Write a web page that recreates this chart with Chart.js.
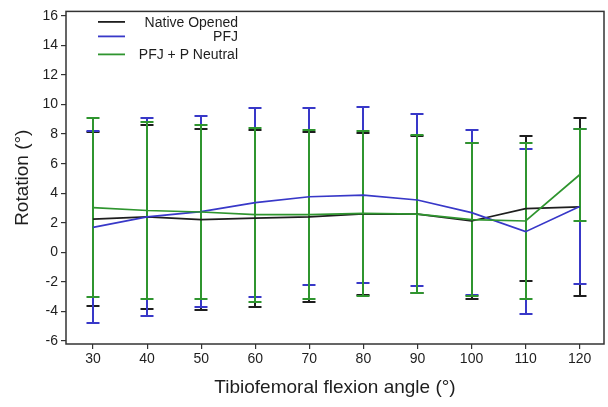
<!DOCTYPE html>
<html>
<head>
<meta charset="utf-8">
<title>Rotation vs tibiofemoral flexion angle</title>
<script src="https://cdn.jsdelivr.net/npm/chart.js@4.4.1/dist/chart.umd.min.js"></script>
<style>
  html, body { margin: 0; padding: 0; background: #fff; }
</style>
</head>
<body>
<canvas id="chart" width="608" height="407"></canvas>
<script>
// Flexion angles (deg) and axis ticks
const angles = [30, 40, 50, 60, 70, 80, 90, 100, 110, 120];
const xTicks = [30, 40, 50, 60, 70, 80, 90, 100, 110, 120];
const yTicks = [-6, -4, -2, 0, 2, 4, 6, 8, 10, 12, 14, 16];

// Series labels
const seriesNames = ['Native Opened', 'PFJ', 'PFJ + P Neutral'];

// Mean rotation (deg) and SD for each condition
const nativeMean = [2.25, 2.4, 2.22, 2.31, 2.4, 2.6, 2.58, 2.12, 2.96, 3.07];
const nativeSD = [5.9, 6.2, 6.1, 6.0, 5.75, 5.5, 5.3, 5.27, 4.93, 6.04];

const pfjMean = [1.69, 2.4, 2.76, 3.36, 3.76, 3.87, 3.54, 2.69, 1.4, 3.1];
const pfjSD = [6.5, 6.7, 6.45, 6.38, 6.0, 5.97, 5.84, 5.58, 5.56, 5.27];

const neutralMean = [3.02, 2.83, 2.73, 2.55, 2.55, 2.63, 2.58, 2.22, 2.12, 5.25];
const neutralSD = [6.07, 5.97, 5.87, 5.88, 5.7, 5.57, 5.33, 5.15, 5.29, 3.1];

const colors = ['#1e1e1e', '#3838c8', '#2f952f'];

Chart.defaults.font.family = '"Liberation Sans", Arial, sans-serif';
Chart.defaults.color = '#1e1e1e';

const CAP = 6.5;

// Draw +/- SD bars behind the mean lines (snapped to whole pixels so the
// last one drawn fully covers the others)
const errorBars = {
  id: 'errorBars',
  beforeDatasetsDraw(chart) {
    const { ctx, scales: { x, y } } = chart;
    chart.data.datasets.forEach(ds => {
      ctx.save();
      ctx.strokeStyle = ds.borderColor;
      ctx.lineWidth = 2;
      ds.data.forEach((pt, i) => {
        const px = Math.round(x.getPixelForValue(pt.x));
        const top = Math.round(y.getPixelForValue(pt.y + ds.sd[i]));
        const bot = Math.round(y.getPixelForValue(pt.y - ds.sd[i]));
        ctx.beginPath();
        ctx.moveTo(px, top);
        ctx.lineTo(px, bot);
        ctx.moveTo(px - CAP, top);
        ctx.lineTo(px + CAP, top);
        ctx.moveTo(px - CAP, bot);
        ctx.lineTo(px + CAP, bot);
        ctx.stroke();
      });
      ctx.restore();
    });
  }
};

// Box around the plot area plus the legend in its top-left corner
const frameAndLegend = {
  id: 'frameAndLegend',
  afterDraw(chart) {
    const { ctx, chartArea: a } = chart;
    ctx.save();
    ctx.strokeStyle = '#333';
    ctx.lineWidth = 1.5;
    ctx.strokeRect(a.left, a.top, a.right - a.left, a.bottom - a.top);

    const rows = [10.5, 25, 43];
    ctx.font = '14px "Liberation Sans", Arial, sans-serif';
    ctx.textAlign = 'right';
    ctx.textBaseline = 'middle';
    chart.data.datasets.forEach((ds, i) => {
      const yy = a.top + rows[i];
      ctx.strokeStyle = ds.borderColor;
      ctx.lineWidth = 1.8;
      ctx.beginPath();
      ctx.moveTo(a.left + 32, yy);
      ctx.lineTo(a.left + 59, yy);
      ctx.stroke();
      ctx.fillStyle = '#1e1e1e';
      ctx.fillText(ds.label, a.left + 172, yy + 1);
    });
    ctx.restore();
  }
};

function series(label, mean, sd, color, order) {
  return {
    label: label,
    data: angles.map((a, i) => ({ x: a, y: mean[i] })),
    sd: sd,
    borderColor: color,
    backgroundColor: color,
    borderWidth: 1.7,
    pointRadius: 0,
    tension: 0,
    order: order
  };
}

new Chart(document.getElementById('chart'), {
  type: 'line',
  data: {
    datasets: [
      series(seriesNames[0], nativeMean, nativeSD, colors[0], 2),
      series(seriesNames[1], pfjMean, pfjSD, colors[1], 1),
      series(seriesNames[2], neutralMean, neutralSD, colors[2], 0)
    ]
  },
  options: {
    responsive: false,
    animation: false,
    layout: {
      autoPadding: false,
      padding: { top: 8, right: 4, left: 0, bottom: 0 }
    },
    plugins: {
      legend: { display: false },
      tooltip: { enabled: false }
    },
    scales: {
      x: {
        type: 'linear',
        min: 25,
        max: 124.5,
        afterBuildTicks: (scale) => { scale.ticks = xTicks.map(v => ({ value: v })); },
        afterFit: (scale) => { scale.height = 63; },
        grid: { drawOnChartArea: false, drawTicks: true, tickLength: 5, color: '#333', lineWidth: 1.2 },
        border: { display: false },
        ticks: { font: { size: 14 }, padding: 2, maxRotation: 0, color: '#1e1e1e' },
        title: {
          display: true,
          text: 'Tibiofemoral flexion angle (°)',
          font: { size: 19 },
          color: '#1e1e1e',
          padding: { top: 0, bottom: 8 }
        }
      },
      y: {
        type: 'linear',
        min: -6.2,
        max: 16.3,
        afterBuildTicks: (scale) => { scale.ticks = yTicks.map(v => ({ value: v })); },
        afterFit: (scale) => { scale.width = 66; },
        grid: { drawOnChartArea: false, drawTicks: true, tickLength: 5, color: '#333', lineWidth: 1.2 },
        border: { display: false },
        ticks: { font: { size: 14 }, padding: 3, color: '#1e1e1e' },
        title: {
          display: true,
          text: 'Rotation (°)',
          font: { size: 19 },
          color: '#1e1e1e',
          padding: { top: 11, bottom: 0 }
        }
      }
    }
  },
  plugins: [errorBars, frameAndLegend]
});
</script>
</body>
</html>
